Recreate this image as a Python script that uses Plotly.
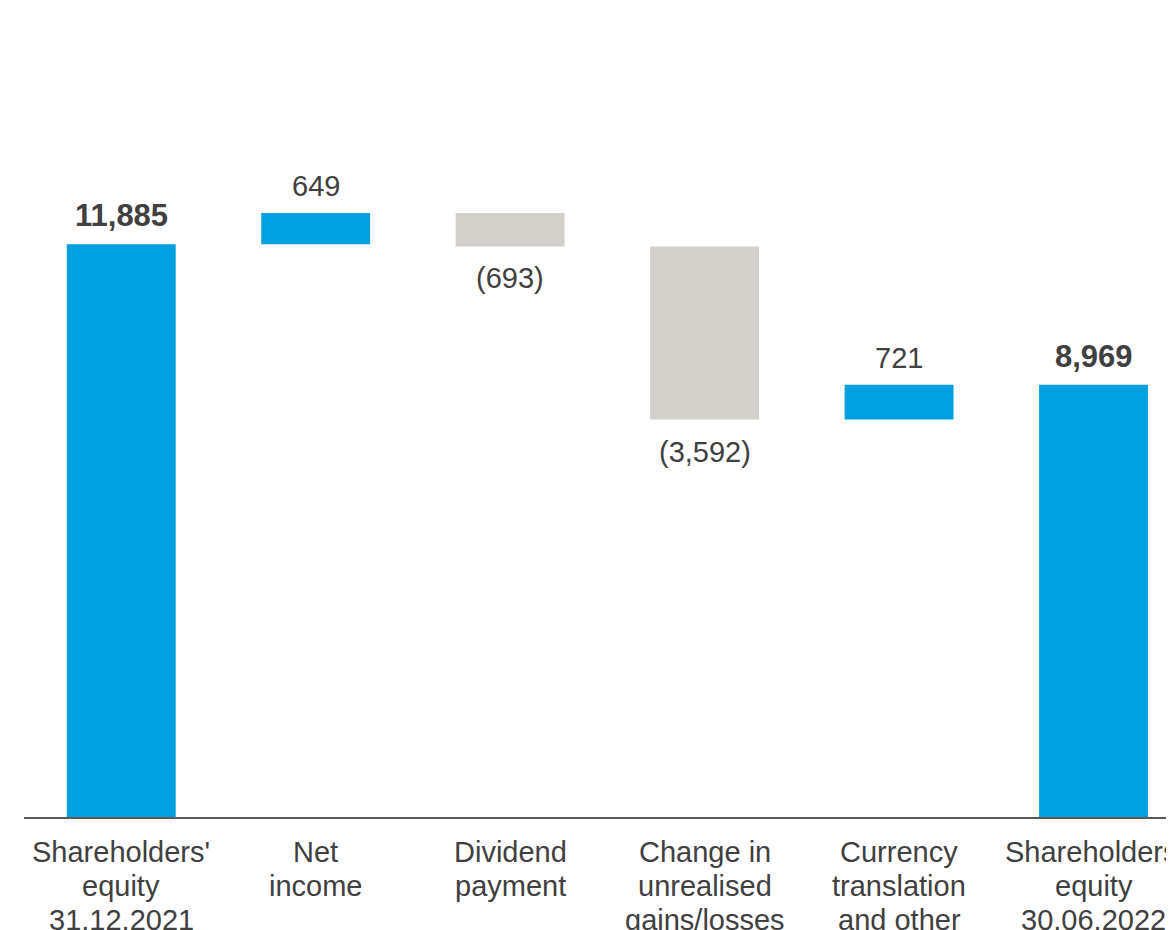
import plotly.graph_objects as go

# data
categories = [
    "Shareholders' equity 31.12.2021",
    "Net income",
    "Dividend payment",
    "Change in unrealised gains/losses",
    "Currency translation and other",
    "Shareholders' equity 30.06.2022",
]
category_lines = [
    ["Shareholders'", "equity", "31.12.2021"],
    ["Net", "income"],
    ["Dividend", "payment"],
    ["Change in", "unrealised", "gains/losses"],
    ["Currency", "translation", "and other"],
    ["Shareholders'", "equity", "30.06.2022"],
]
measures = ["absolute", "relative", "relative", "relative", "relative", "absolute"]
values = [11885, 649, -693, -3592, 721, 8969]
value_labels = ["11,885", "649", "(693)", "(3,592)", "721", "8,969"]
bold_labels = [True, False, False, False, False, True]

colors = {
    'blue': '#009FE0',
    'grey': '#D3D0CB',
    'text': '#404040',
    'axis': '#595959',
}
font_family = "Liberation Sans, Arial"

fig = go.Figure()

fig.add_trace(go.Waterfall(
    x=categories,
    y=values,
    measure=measures,
    width=0.56,
    increasing=dict(marker=dict(color=colors['blue'])),
    decreasing=dict(marker=dict(color=colors['grey'])),
    totals=dict(marker=dict(color=colors['blue'])),
    connector=dict(visible=False),
    hoverinfo='skip',
    showlegend=False,
))

# value labels: above bar for totals / increases, below for decreases
running = 0
for cat, m, v, lab, bold in zip(categories, measures, values, value_labels, bold_labels):
    if m == "absolute":
        start, end = 0, v
    else:
        start, end = running, running + v
    running = end
    if v >= 0:
        y, anchor, shift = max(start, end), 'bottom', 9
    else:
        y, anchor, shift = min(start, end), 'top', -14
    fig.add_annotation(
        x=cat, y=y, text=f"<b>{lab}</b>" if bold else lab,
        showarrow=False, yanchor=anchor, yshift=shift,
        font=dict(family=font_family, size=31 if bold else 29,
                  color=colors['text']),
    )

# category labels, one line at a time (tighter line spacing than tick labels)
for cat, lines in zip(categories, category_lines):
    for i, line in enumerate(lines):
        fig.add_annotation(
            x=cat, y=0, text=line, showarrow=False,
            yanchor='middle', yshift=-35 - i * 34,
            font=dict(family=font_family, size=29, color=colors['text']),
        )

fig.update_layout(
    width=1174,
    height=930,
    margin=dict(l=16, r=0, t=38, b=121),
    plot_bgcolor='white',
    paper_bgcolor='white',
    font=dict(family=font_family, size=29, color=colors['text']),
    xaxis=dict(
        range=[-0.5, 5.455],
        showline=True,
        linecolor=colors['axis'],
        linewidth=2,
        showgrid=False,
        ticks='',
        showticklabels=False,
        automargin=False,
    ),
    yaxis=dict(
        range=[0, 16000],
        visible=False,
        automargin=False,
    ),
)

fig.write_html("out.html")
